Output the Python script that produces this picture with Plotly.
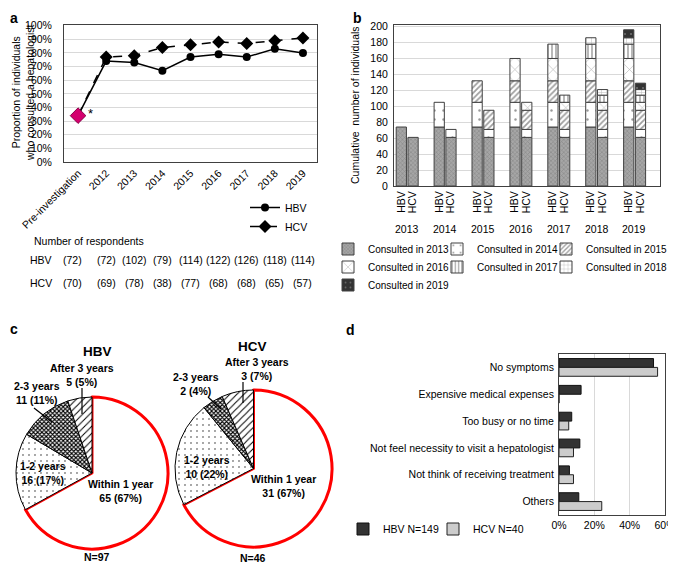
import plotly.graph_objects as go

# The page body adds an 8 px margin, so the figure is 8 px smaller than the window and
# all layout positions below are given in window pixels, converted with fx/fy.
PAGE_MARGIN = 8
W, H = 676 - PAGE_MARGIN, 565 - PAGE_MARGIN
def fx(p):
    return (p - PAGE_MARGIN) / W
def fy(p):
    return 1 - (p - PAGE_MARGIN) / H

FONT = "Liberation Sans, Arial, sans-serif"
FS = 10.5

# ---------------- data ----------------
# panel a
a_categories = ["Pre-investigation", "2012", "2013", "2014", "2015", "2016", "2017", "2018", "2019"]
a_hbv_pct = [34, 74, 73, 67, 77, 79, 77, 83, 80]
a_hcv_pct = [34, 77, 78, 84, 86, 88, 87, 89, 91]
a_pre_pct = 34
resp_hbv = [72, 72, 102, 79, 114, 122, 126, 118, 114]
resp_hcv = [70, 69, 78, 38, 77, 68, 68, 65, 57]

# panel b
b_years = [2013, 2014, 2015, 2016, 2017, 2018, 2019]
b_consult_labels = ["Consulted in 2013", "Consulted in 2014", "Consulted in 2015",
                    "Consulted in 2016", "Consulted in 2017", "Consulted in 2018",
                    "Consulted in 2019"]
b_hbv_new = [74, 31, 27, 28, 18, 8, 10]
b_hcv_new = [61, 10, 24, 10, 9, 7, 8]

# panel c
c_labels = ["Within 1 year", "1-2 years", "2-3 years", "After 3 years"]
c_hbv_n = [65, 16, 11, 5]
c_hbv_pct = [67, 17, 11, 5]
c_hcv_n = [31, 10, 2, 3]
c_hcv_pct = [67, 22, 4, 7]
c_hbv_total = 97
c_hcv_total = 46

# panel d
d_reasons = ["No symptoms", "Expensive medical expenses", "Too busy or no time",
             "Not feel necessity to visit a hepatologist", "Not think of receiving treatment",
             "Others"]
d_hbv_pct = [53.5, 12.5, 7.2, 11.8, 5.9, 11.2]
d_hcv_pct = [55.8, 0, 5.5, 8.2, 8.2, 24.2]
d_names = ["HBV N=149", "HCV N=40"]

fig = go.Figure()

# ---------------- panel a ----------------
fig.add_trace(go.Scatter(x=a_categories, y=a_hbv_pct, name="HBV", mode="lines+markers",
                         line=dict(color="black", width=1.5),
                         marker=dict(symbol="circle", size=8, color="black"),
                         xaxis="x", yaxis="y", legend="legend"))
fig.add_trace(go.Scatter(x=a_categories, y=a_hcv_pct, name="HCV", mode="lines+markers",
                         line=dict(color="black", width=1.5, dash="dash"),
                         marker=dict(symbol="diamond", size=10, color="black"),
                         xaxis="x", yaxis="y", legend="legend"))
fig.add_trace(go.Scatter(x=[a_categories[0]], y=[a_pre_pct], mode="markers", showlegend=False,
                         marker=dict(symbol="diamond", size=12, color="#d4006e",
                                     line=dict(color="#8a0048", width=1)),
                         xaxis="x", yaxis="y"))

# ---------------- panel b ----------------
b_styles = [
    dict(color="#a6a6a6", pattern=dict(shape="x", size=3, solidity=0.35, fgcolor="#6a6a6a")),
    dict(color="white", pattern=dict(shape=".", size=9, solidity=0.06, fgcolor="#333333")),
    dict(color="white", pattern=dict(shape="/", size=4, solidity=0.45, fgcolor="#404040")),
    dict(color="white", pattern=dict(shape="x", size=9, solidity=0.12, fgcolor="#555555")),
    dict(color="white", pattern=dict(shape="|", size=4, solidity=0.35, fgcolor="#333333")),
    dict(color="white", pattern=dict(shape="+", size=5, solidity=0.2, fgcolor="#777777")),
    dict(color="#333333", pattern=dict(shape=".", size=6, solidity=0.1, fgcolor="#aaaaaa")),
]
b_legend_ids = ["legend%d" % (k + 2) for k in range(len(b_consult_labels))]
B_W = 0.27
B_OFF_HBV = -0.285
B_OFF_HCV = 0.025
for k, lab in enumerate(b_consult_labels):
    yrs = b_years[k:]
    st = b_styles[k]
    mk = dict(color=st["color"], pattern=st["pattern"], line=dict(color="#404040", width=1))
    fig.add_trace(go.Bar(x=yrs, y=[b_hbv_new[k]] * len(yrs), base=sum(b_hbv_new[:k]),
                         offset=B_OFF_HBV, width=B_W, marker=mk, name=lab,
                         legend=b_legend_ids[k], legendgroup=lab, showlegend=True,
                         xaxis="x2", yaxis="y2"))
    fig.add_trace(go.Bar(x=yrs, y=[b_hcv_new[k]] * len(yrs), base=sum(b_hcv_new[:k]),
                         offset=B_OFF_HCV, width=B_W, marker=mk, name=lab,
                         legend=b_legend_ids[k], legendgroup=lab, showlegend=False,
                         xaxis="x2", yaxis="y2"))

# ---------------- panel c ----------------
pie_marker_common = dict(
    colors=["white", "white", "white", "white"],
    line=dict(color=["#ff0000", "black", "black", "black"], width=[3, 1, 1, 1]),
    pattern=dict(shape=["", ".", "x", "/"], size=[6, 6, 3, 5],
                 solidity=[0, 0.035, 0.6, 0.2], fgcolor="black"),
)
fig.add_trace(go.Pie(values=c_hbv_n, labels=c_labels, sort=False, direction="clockwise",
                     rotation=0, textinfo="none", showlegend=False, marker=pie_marker_common,
                     domain=dict(x=[fx(16), fx(168)], y=[fy(549), fy(397)])))
fig.add_trace(go.Pie(values=c_hcv_n, labels=c_labels, sort=False, direction="clockwise",
                     rotation=0, textinfo="none", showlegend=False, marker=pie_marker_common,
                     domain=dict(x=[fx(175), fx(332)], y=[fy(547), fy(390)])))

# ---------------- panel d ----------------
fig.add_trace(go.Bar(y=d_reasons, x=d_hbv_pct, orientation="h", name=d_names[0],
                     width=0.33, offset=-0.33,
                     marker=dict(color="#333333", line=dict(color="#111111", width=1)),
                     xaxis="x3", yaxis="y3", legend="legend9"))
fig.add_trace(go.Bar(y=d_reasons, x=d_hcv_pct, orientation="h", name=d_names[1],
                     width=0.33, offset=0.0,
                     marker=dict(color="#cccccc", line=dict(color="#222222", width=1)),
                     xaxis="x3", yaxis="y3", legend="legend10"))

# ---------------- annotations ----------------
ann = []
def txt(x, y, s, size=FS, bold=False, xanchor="center", yanchor="middle", angle=0,
        xref="paper", yref="paper", xshift=0):
    ann.append(dict(x=x, y=y, xref=xref, yref=yref, text=("<b>%s</b>" % s) if bold else s,
                    showarrow=False, xanchor=xanchor, yanchor=yanchor, textangle=angle,
                    xshift=xshift, font=dict(family=FONT, size=size, color="black")))

# panel letters
txt(fx(8), fy(8), "a", size=14, bold=True, xanchor="left", yanchor="top")
txt(fx(357), fy(8), "b", size=14, bold=True, yanchor="top")
txt(fx(8), fy(329), "c", size=14, bold=True, xanchor="left")
txt(fx(350), fy(330), "d", size=14, bold=True)

# panel a
txt(fx(23), fy(93), "Proportion of individuals<br>who consulted a hepatologist", angle=-90)
txt(fx(90), fy(113), "*", size=13)
txt(fx(32), fy(241), "Number of respondents", xanchor="left")
txt(fx(41), fy(260), "HBV")
txt(fx(41), fy(283), "HCV")
for i, v in enumerate(resp_hbv):
    txt(i, fy(260), "(%d)" % v, xref="x", xshift=-6 if i == 0 else 0)
for i, v in enumerate(resp_hcv):
    txt(i, fy(283), "(%d)" % v, xref="x", xshift=-6 if i == 0 else 0)

# panel b
txt(fx(355), fy(105), "Cumulative  number of individuals", angle=-90)
for yr in b_years:
    txt(yr, fy(229), str(yr), xref="x2")

# panel c
txt(fx(97), fy(351), "HBV", size=13.5, bold=True)
txt(fx(253), fy(346), "HCV", size=13.5, bold=True)
txt(fx(97), fy(557), "N=%d" % c_hbv_total, bold=True)
txt(fx(253), fy(558), "N=%d" % c_hcv_total, bold=True)

hbv_pos = [(120, 491), (43, 473), (37, 393), (82, 375)]
hcv_pos = [(283, 486), (207, 467), (196, 384), (257, 369)]
for lab, n, p, (x, y) in zip(c_labels, c_hbv_n, c_hbv_pct, hbv_pos):
    txt(fx(x), fy(y), "%s<br>%d (%d%%)" % (lab, n, p), bold=True)
for lab, n, p, (x, y) in zip(c_labels, c_hcv_n, c_hcv_pct, hcv_pos):
    txt(fx(x), fy(y), "%s<br>%d (%d%%)" % (lab, n, p), bold=True)

shapes = []
for (x0, y0, x1, y1) in [(34, 408, 52, 422), (82, 388, 82, 414), (208, 397, 221, 409),
                         (243, 382, 243, 403)]:
    shapes.append(dict(type="line", xref="paper", yref="paper", x0=fx(x0), y0=fy(y0),
                       x1=fx(x1), y1=fy(y1), line=dict(color="black", width=1.2)))

axis_common = dict(showline=True, mirror=True, linecolor="#404040", linewidth=1, ticks="",
                   tickfont=dict(family=FONT, size=FS, color="black"), zeroline=False,
                   automargin=False)

def legend_at(text_x, text_y, size=FS, orientation="h"):
    # plotly puts the legend text 40 px right of the legend's left edge
    return dict(x=fx(text_x - 40), y=fy(text_y), xanchor="left", yanchor="middle",
                orientation=orientation, bgcolor="rgba(0,0,0,0)", borderwidth=0,
                font=dict(family=FONT, size=size, color="black"))

# text positions (window px) of the legend entries of panel b
b_leg_text_x = [368, 477, 586, 368, 477, 586, 368]
b_leg_text_y = [249, 249, 249, 267, 267, 267, 285]
b_leg_layout = {lid: legend_at(x, y, size=10)
                for lid, x, y in zip(b_legend_ids, b_leg_text_x, b_leg_text_y)}

fig.update_layout(
    width=W, height=H, margin=dict(l=0, r=0, t=0, b=0, autoexpand=False),
    paper_bgcolor="white", plot_bgcolor="white",
    font=dict(family=FONT, size=FS, color="black"),
    barmode="group",
    xaxis=dict(domain=[fx(64), fx(317)], type="category", range=[-0.5, 8.5], tickangle=-45,
               showgrid=False, anchor="y", **axis_common),
    yaxis=dict(domain=[fy(162), fy(25)], range=[0, 100.5], dtick=10, ticksuffix="%",
               showgrid=True, gridcolor="#d9d9d9", anchor="x", ticklabelstandoff=9,
               **axis_common),
    xaxis2=dict(domain=[fx(394), fx(660)], range=[2012.657, 2019.675], showgrid=False,
                tickmode="array",
                tickvals=[yr + B_OFF_HBV + B_W / 2 for yr in b_years] +
                         [yr + B_OFF_HCV + B_W / 2 for yr in b_years],
                ticktext=["HBV"] * len(b_years) + ["HCV"] * len(b_years),
                tickangle=-90, anchor="y2", **axis_common),
    yaxis2=dict(domain=[fy(186), fy(25)], range=[0, 202], dtick=20, showgrid=True,
                gridcolor="#d9d9d9", anchor="x2", ticklabelstandoff=3, **axis_common),
    xaxis3=dict(domain=[fx(559), fx(665)], range=[0, 60], dtick=20, ticksuffix="%",
                showgrid=True, gridcolor="#d9d9d9", anchor="y3", **axis_common),
    yaxis3=dict(domain=[fy(515), fy(354)], type="category", autorange="reversed",
                showgrid=False, anchor="x3", ticklabelstandoff=2, **axis_common),
    legend=legend_at(285, 217, orientation="v"),
    legend9=legend_at(383, 529),
    legend10=legend_at(473, 529),
    annotations=ann,
    shapes=shapes,
    showlegend=True,
)
fig.update_layout(**b_leg_layout)

fig.write_html("out.html")
